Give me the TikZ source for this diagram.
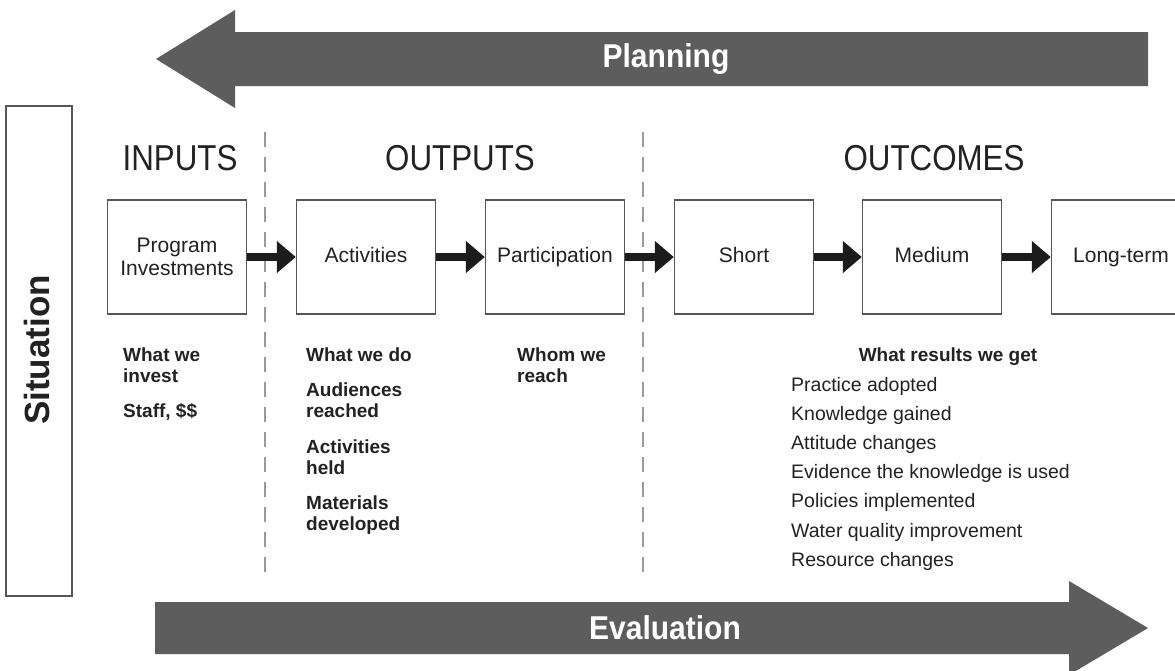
\documentclass[tikz,border=0pt]{standalone}
\usepackage{fontspec}
\usepackage{graphicx}
\setmainfont{Liberation Sans}
\usetikzlibrary{arrows.meta}
\definecolor{bigarrow}{HTML}{5D5D5D}
\definecolor{boxline}{HTML}{555555}
\definecolor{flowcol}{HTML}{1C1C1C}
\definecolor{dashcol}{HTML}{9A9A9A}
\definecolor{textdark}{HTML}{222222}
\newcommand{\narrow}[2]{\scalebox{#1}[1]{#2}}
\begin{document}
\begin{tikzpicture}[x=1pt,y=-1pt,
  stagebox/.style={draw=boxline, line width=1.4pt, minimum width=139pt, minimum height=114pt,
    inner sep=0pt, align=center, font=\fontsize{21}{23.5}\selectfont, text=textdark},
  oneline/.style={text height=15pt, text depth=4.5pt},
  flow/.style={draw=flowcol, line width=8pt, -{Triangle[length=19pt,width=31pt]}},
  heading/.style={inner sep=0pt, text=textdark, font=\fontsize{36}{40}\selectfont},
  boldlbl/.style={inner sep=0pt, anchor=base west, text=textdark, font=\fontsize{19}{21}\selectfont\bfseries},
  listlbl/.style={inner sep=0pt, anchor=base west, text=textdark, font=\fontsize{19.5}{22}\selectfont},
  bigtext/.style={inner sep=0pt, text=white, font=\fontsize{33}{36}\selectfont\bfseries},
  dashline/.style={draw=dashcol, line width=2.2pt, dash pattern=on 15pt off 10pt}
]
\useasboundingbox (0,0) rectangle (1175,670);
\clip (0,0) rectangle (1175,670);
\fill[white] (0,0) rectangle (1175,670);

% Planning arrow
\fill[bigarrow] (1148,32) -- (235,32) -- (235,10) -- (156,59) -- (235,108) -- (235,86) -- (1148,86) -- cycle;
\node[bigtext] (planning) at (666,59) {\narrow{0.91}{Planning}};

% Evaluation arrow
\fill[bigarrow] (155,602) -- (1069,602) -- (1069,581) -- (1148,628) -- (1069,675) -- (1069,654) -- (155,654) -- cycle;
\node[bigtext] (evaluation) at (665,628) {\narrow{0.91}{Evaluation}};

% Situation box
\draw[draw=boxline, line width=1.4pt] (6,106) rectangle (72,596);
\node[inner sep=0pt, rotate=90, text=textdark, font=\fontsize{35}{38}\selectfont\bfseries] (situation) at (37,350) {Situation};

% Dashed separators
\coordinate (d1t) at (265,132); \coordinate (d1b) at (265,577);
\coordinate (d2t) at (643,132); \coordinate (d2b) at (643,577);
\draw[dashline] (d1t) -- (d1b);
\draw[dashline] (d2t) -- (d2b);

% Headings
\node[heading] (inputs) at (180,158) {\narrow{0.87}{INPUTS}};
\node[heading] (outputs) at (460,158) {\narrow{0.87}{OUTPUTS}};
\node[heading] (outcomes) at (934,158) {\narrow{0.87}{OUTCOMES}};

% Stage boxes
\node[stagebox] (invest) at (177,257) {Program\\Investments};
\node[stagebox, oneline] (activ) at (366,257) {Activities};
\node[stagebox, oneline] (partic) at (555,257) {Participation};
\node[stagebox, oneline] (short) at (744,257) {Short};
\node[stagebox, oneline] (medium) at (932,257) {Medium};
\node[stagebox, oneline] (long) at (1121,257) {Long-term};

% Flow arrows
\draw[flow] (invest.east) -- (activ.west);
\draw[flow] (activ.east) -- (partic.west);
\draw[flow] (partic.east) -- (short.west);
\draw[flow] (short.east) -- (medium.west);
\draw[flow] (medium.east) -- (long.west);

% Inputs column
\node[boldlbl] (i1) at (123,361) {What we};
\node[boldlbl] (i2) at (123,382) {invest};
\node[boldlbl] (i3) at (123,417) {Staff, \$\$};

% Outputs column
\node[boldlbl] (o1) at (306,361) {What we do};
\node[boldlbl] (o2) at (306,396) {Audiences};
\node[boldlbl] (o3) at (306,417) {reached};
\node[boldlbl] (o4) at (306,453) {Activities};
\node[boldlbl] (o5) at (306,474) {held};
\node[boldlbl] (o6) at (306,509) {Materials};
\node[boldlbl] (o7) at (306,530) {developed};

\node[boldlbl] (p1) at (517,361) {Whom we};
\node[boldlbl] (p2) at (517,382) {reach};

% Outcomes column
\node[boldlbl, anchor=base] (r0) at (948,361) {What results we get};
\node[listlbl] (r1) at (791,391) {Practice adopted};
\node[listlbl] (r2) at (791,420) {Knowledge gained};
\node[listlbl] (r3) at (791,449) {Attitude changes};
\node[listlbl] (r4) at (791,478) {Evidence the knowledge is used};
\node[listlbl] (r5) at (791,507) {Policies implemented};
\node[listlbl] (r6) at (791,537) {Water quality improvement};
\node[listlbl] (r7) at (791,566) {Resource changes};
\end{tikzpicture}
\end{document}
